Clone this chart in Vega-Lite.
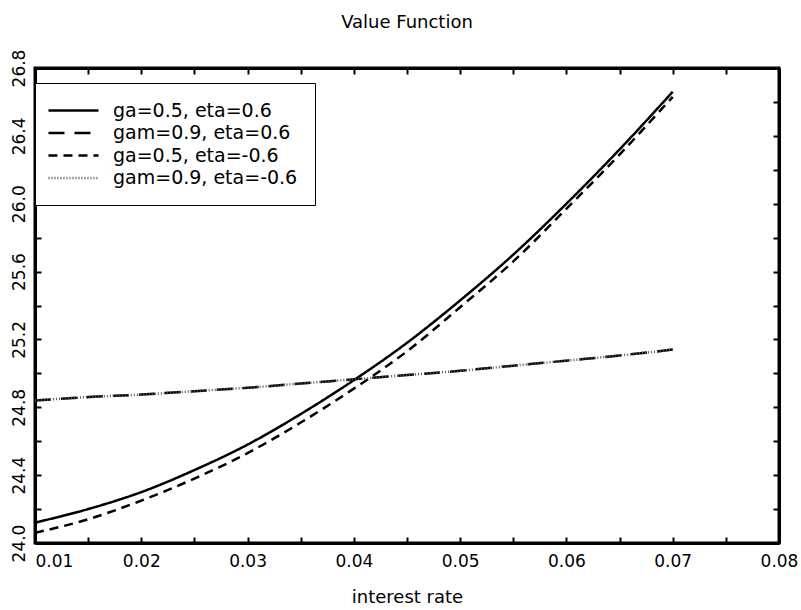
{
  "$schema": "https://vega.github.io/schema/vega-lite/v6.json",
  "autosize": {"type": "none"},
  "width": 744,
  "height": 475,
  "padding": {"left": 35, "top": 68, "right": 22, "bottom": 67},
  "title": {"text": "Value Function", "fontSize": 18, "font": "DejaVu Sans", "fontWeight": "normal", "frame": "group", "offset": 17, "anchor": "middle", "color": "black"},
  "config": {"view": {"stroke": "black", "strokeWidth": 3}, "font": "DejaVu Sans"},
  "data": {"values": [
    {"series": "ga=0.5, eta=0.6", "r": 0.010, "v": 24.12},
    {"series": "ga=0.5, eta=0.6", "r": 0.015, "v": 24.20},
    {"series": "ga=0.5, eta=0.6", "r": 0.020, "v": 24.30},
    {"series": "ga=0.5, eta=0.6", "r": 0.025, "v": 24.43},
    {"series": "ga=0.5, eta=0.6", "r": 0.030, "v": 24.58},
    {"series": "ga=0.5, eta=0.6", "r": 0.035, "v": 24.76},
    {"series": "ga=0.5, eta=0.6", "r": 0.040, "v": 24.96},
    {"series": "ga=0.5, eta=0.6", "r": 0.045, "v": 25.18},
    {"series": "ga=0.5, eta=0.6", "r": 0.050, "v": 25.43},
    {"series": "ga=0.5, eta=0.6", "r": 0.055, "v": 25.70},
    {"series": "ga=0.5, eta=0.6", "r": 0.060, "v": 26.00},
    {"series": "ga=0.5, eta=0.6", "r": 0.065, "v": 26.32},
    {"series": "ga=0.5, eta=0.6", "r": 0.070, "v": 26.66},
    {"series": "gam=0.9, eta=0.6", "r": 0.010, "v": 24.84},
    {"series": "gam=0.9, eta=0.6", "r": 0.015, "v": 24.86},
    {"series": "gam=0.9, eta=0.6", "r": 0.020, "v": 24.875},
    {"series": "gam=0.9, eta=0.6", "r": 0.025, "v": 24.895},
    {"series": "gam=0.9, eta=0.6", "r": 0.030, "v": 24.915},
    {"series": "gam=0.9, eta=0.6", "r": 0.035, "v": 24.94},
    {"series": "gam=0.9, eta=0.6", "r": 0.040, "v": 24.965},
    {"series": "gam=0.9, eta=0.6", "r": 0.045, "v": 24.99},
    {"series": "gam=0.9, eta=0.6", "r": 0.050, "v": 25.015},
    {"series": "gam=0.9, eta=0.6", "r": 0.055, "v": 25.045},
    {"series": "gam=0.9, eta=0.6", "r": 0.060, "v": 25.075},
    {"series": "gam=0.9, eta=0.6", "r": 0.065, "v": 25.105},
    {"series": "gam=0.9, eta=0.6", "r": 0.070, "v": 25.14},
    {"series": "ga=0.5, eta=-0.6", "r": 0.010, "v": 24.06},
    {"series": "ga=0.5, eta=-0.6", "r": 0.015, "v": 24.14},
    {"series": "ga=0.5, eta=-0.6", "r": 0.020, "v": 24.25},
    {"series": "ga=0.5, eta=-0.6", "r": 0.025, "v": 24.38},
    {"series": "ga=0.5, eta=-0.6", "r": 0.030, "v": 24.53},
    {"series": "ga=0.5, eta=-0.6", "r": 0.035, "v": 24.71},
    {"series": "ga=0.5, eta=-0.6", "r": 0.040, "v": 24.91},
    {"series": "ga=0.5, eta=-0.6", "r": 0.045, "v": 25.13},
    {"series": "ga=0.5, eta=-0.6", "r": 0.050, "v": 25.39},
    {"series": "ga=0.5, eta=-0.6", "r": 0.055, "v": 25.66},
    {"series": "ga=0.5, eta=-0.6", "r": 0.060, "v": 25.97},
    {"series": "ga=0.5, eta=-0.6", "r": 0.065, "v": 26.29},
    {"series": "ga=0.5, eta=-0.6", "r": 0.070, "v": 26.63},
    {"series": "gam=0.9, eta=-0.6", "r": 0.010, "v": 24.84},
    {"series": "gam=0.9, eta=-0.6", "r": 0.015, "v": 24.86},
    {"series": "gam=0.9, eta=-0.6", "r": 0.020, "v": 24.875},
    {"series": "gam=0.9, eta=-0.6", "r": 0.025, "v": 24.895},
    {"series": "gam=0.9, eta=-0.6", "r": 0.030, "v": 24.915},
    {"series": "gam=0.9, eta=-0.6", "r": 0.035, "v": 24.94},
    {"series": "gam=0.9, eta=-0.6", "r": 0.040, "v": 24.965},
    {"series": "gam=0.9, eta=-0.6", "r": 0.045, "v": 24.99},
    {"series": "gam=0.9, eta=-0.6", "r": 0.050, "v": 25.015},
    {"series": "gam=0.9, eta=-0.6", "r": 0.055, "v": 25.045},
    {"series": "gam=0.9, eta=-0.6", "r": 0.060, "v": 25.075},
    {"series": "gam=0.9, eta=-0.6", "r": 0.065, "v": 25.105},
    {"series": "gam=0.9, eta=-0.6", "r": 0.070, "v": 25.14}
  ]},
  "layer": [
    {
      "mark": {"type": "line", "clip": true, "interpolate": "monotone"},
      "encoding": {
        "x": {
          "field": "r", "type": "quantitative",
          "scale": {"domain": [0.01, 0.08], "nice": false, "zero": false},
          "axis": {
            "orient": "bottom", "title": "interest rate", "grid": false,
            "values": [0.01, 0.015, 0.02, 0.025, 0.03, 0.035, 0.04, 0.045, 0.05, 0.055, 0.06, 0.065, 0.07, 0.075, 0.08],
            "labelExpr": "abs(datum.value*100 - round(datum.value*100)) < 0.001 ? format(datum.value, '.2f') : ''",
            "labelAlign": {"condition": {"test": "datum.value < 0.0101", "value": "left"}, "value": "center"},
            "domainColor": "black", "domainWidth": 3,
            "tickColor": "black", "tickWidth": 2, "tickSize": -6,
            "labelPadding": 16, "labelFontSize": 17, "labelColor": "black", "labelFont": "DejaVu Sans",
            "labelOverlap": false,
            "titleFontSize": 18, "titleFontWeight": "normal", "titleColor": "black", "titleFont": "DejaVu Sans", "titlePadding": 19
          }
        },
        "y": {
          "field": "v", "type": "quantitative",
          "scale": {"domain": [24.0, 26.8], "nice": false, "zero": false},
          "axis": {
            "orient": "left", "title": null, "grid": false,
            "values": [24.0, 24.2, 24.4, 24.6, 24.8, 25.0, 25.2, 25.4, 25.6, 25.8, 26.0, 26.2, 26.4, 26.6, 26.8],
            "labelExpr": "abs(datum.value*2.5 - round(datum.value*2.5)) < 0.001 ? format(datum.value, '.1f') : ''",
            "labelAngle": -90, "labelAlign": "center", "labelBaseline": "bottom",
            "domainColor": "black", "domainWidth": 3,
            "tickColor": "black", "tickWidth": 2, "tickSize": -6,
            "labelPadding": 13, "labelFontSize": 17, "labelColor": "black", "labelFont": "DejaVu Sans",
            "labelOverlap": false
          }
        },
        "color": {
          "field": "series", "type": "nominal",
          "scale": {"domain": ["ga=0.5, eta=0.6", "gam=0.9, eta=0.6", "ga=0.5, eta=-0.6", "gam=0.9, eta=-0.6"], "range": ["black", "black", "black", "#555555"]},
          "legend": {
            "title": null, "orient": "none", "legendX": 0, "legendY": 15,
            "strokeColor": "black", "fillColor": "white", "padding": 17,
            "symbolType": "M-1.56,0H4", "symbolSize": 324,
            "labelFontSize": 19, "labelFont": "DejaVu Sans", "labelColor": "black", "labelOffset": 40,
            "rowPadding": 1.5, "labelLimit": 300
          }
        },
        "strokeDash": {
          "field": "series", "type": "nominal",
          "scale": {"domain": ["ga=0.5, eta=0.6", "gam=0.9, eta=0.6", "ga=0.5, eta=-0.6", "gam=0.9, eta=-0.6"], "range": [[1, 0], [16, 10], [9, 6], [1, 2]]},
          "legend": {
            "title": null, "orient": "none", "legendX": 0, "legendY": 15,
            "strokeColor": "black", "fillColor": "white", "padding": 17,
            "symbolType": "M-1.56,0H4", "symbolSize": 324,
            "labelFontSize": 19, "labelFont": "DejaVu Sans", "labelColor": "black", "labelOffset": 40,
            "rowPadding": 1.5, "labelLimit": 300
          }
        },
        "strokeWidth": {
          "field": "series", "type": "nominal",
          "scale": {"domain": ["ga=0.5, eta=0.6", "gam=0.9, eta=0.6", "ga=0.5, eta=-0.6", "gam=0.9, eta=-0.6"], "range": [2.5, 2.5, 2.5, 1.2]},
          "legend": {
            "title": null, "orient": "none", "legendX": 0, "legendY": 15,
            "strokeColor": "black", "fillColor": "white", "padding": 17,
            "symbolType": "M-1.56,0H4", "symbolSize": 324,
            "labelFontSize": 19, "labelFont": "DejaVu Sans", "labelColor": "black", "labelOffset": 40,
            "rowPadding": 1.5, "labelLimit": 300
          }
        }
      }
    },
    {
      "mark": {"type": "point", "opacity": 0},
      "encoding": {
        "x": {
          "field": "r", "type": "quantitative",
          "scale": {"domain": [0.01, 0.08], "nice": false, "zero": false},
          "axis": {
            "orient": "top", "title": null, "labels": false, "grid": false,
            "values": [0.01, 0.015, 0.02, 0.025, 0.03, 0.035, 0.04, 0.045, 0.05, 0.055, 0.06, 0.065, 0.07, 0.075, 0.08],
            "domainColor": "black", "domainWidth": 3,
            "tickColor": "black", "tickWidth": 2, "tickSize": -6
          }
        },
        "y": {
          "field": "v", "type": "quantitative",
          "scale": {"domain": [24.0, 26.8], "nice": false, "zero": false},
          "axis": {
            "orient": "right", "title": null, "labels": false, "grid": false,
            "values": [24.0, 24.2, 24.4, 24.6, 24.8, 25.0, 25.2, 25.4, 25.6, 25.8, 26.0, 26.2, 26.4, 26.6, 26.8],
            "domainColor": "black", "domainWidth": 3,
            "tickColor": "black", "tickWidth": 2, "tickSize": -6
          }
        }
      }
    }
  ],
  "resolve": {"axis": {"x": "independent", "y": "independent"}}
}
